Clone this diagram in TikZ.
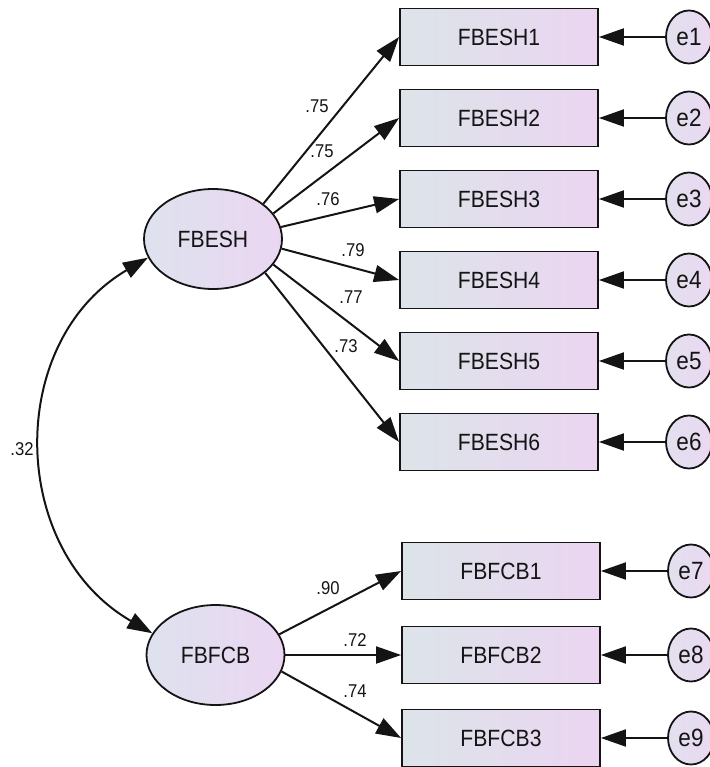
\documentclass[tikz,border=0pt]{standalone}
\usepackage{fontspec}
\setmainfont[FakeStretch=0.9]{Liberation Sans}
\usetikzlibrary{arrows.meta,shapes.geometric}
\definecolor{boxL}{HTML}{DCE4E9}
\definecolor{boxR}{HTML}{EBD5F1}
\definecolor{latL}{HTML}{DEE2EE}
\definecolor{latR}{HTML}{EBD6F2}
\definecolor{errL}{HTML}{E2E0EE}
\definecolor{errR}{HTML}{EAD8F2}
\definecolor{ink}{HTML}{141414}
\begin{document}
\begin{tikzpicture}[x=1pt,y=-1pt,
  indicator/.style={rectangle, draw=ink, line width=1.8pt, left color=boxL, right color=boxR,
    minimum width=198pt, minimum height=57pt, inner sep=0pt, text=ink,
    font=\fontsize{23.5}{27}\selectfont},
  factor/.style={ellipse, draw=ink, line width=1.8pt, left color=latL, right color=latR,
    minimum width=138pt, minimum height=100pt, inner sep=0pt, text=ink,
    font=\fontsize{23.5}{27}\selectfont},
  errterm/.style={ellipse, draw=ink, line width=1.8pt, left color=errL, right color=errR,
    minimum width=46pt, minimum height=53pt, inner sep=0pt, text=ink,
    font=\fontsize{25}{29}\selectfont},
  loading/.style={draw=ink, line width=2pt, -{Triangle[length=25pt,width=17pt]}},
  covpath/.style={draw=ink, line width=2pt,
    {Triangle[length=25pt,width=17pt]}-{Triangle[length=25pt,width=17pt]}},
  coef/.style={text=ink, inner sep=0pt, font=\fontsize{18.5}{21}\selectfont}
]
\useasboundingbox (0,0) rectangle (709,767);

% latent factors
\node[factor] (FBESH) at (213,239) {FBESH};
\node[factor] (FBFCB) at (215.5,655) {FBFCB};

% observed indicators and their error terms
\foreach \i/\y in {1/37,2/118,3/199,4/280,5/361,6/442}{
  \node[indicator] (FBESH\i) at (499,\y) {FBESH\i};
  \node[errterm] (e\i) at (689,\y) {e\i};
  \draw[loading] (e\i) -- (FBESH\i.east);
}
\foreach \i/\y/\k in {1/571/7,2/655/8,3/738/9}{
  \node[indicator] (FBFCB\i) at (501,\y) {FBFCB\i};
  \node[errterm] (e\k) at (691,\y) {e\k};
  \draw[loading] (e\k) -- (FBFCB\i.east);
}

% factor loadings
\draw[loading] (FBESH.35)  -- (FBESH1.west);
\draw[loading] (FBESH.23)  -- (FBESH2.west);
\draw[loading] (FBESH.10)  -- (FBESH3.west);
\draw[loading] (FBESH.-8)  -- (FBESH4.west);
\draw[loading] (FBESH.-23) -- (FBESH5.west);
\draw[loading] (FBESH.-33) -- (FBESH6.west);
\draw[loading] (FBFCB.18)  -- (FBFCB1.west);
\draw[loading] (FBFCB.0)   -- (FBFCB2.west);
\draw[loading] (FBFCB.-14) -- (FBFCB3.west);

% covariance between the factors
\draw[covpath] (FBESH.196) .. controls +(-143,84) and +(-144,-83) .. (FBFCB.161);

% estimates
\node[coef] (c1) at (317,106) {.75};
\node[coef] (c2) at (322,151) {.75};
\node[coef] (c3) at (328,199) {.76};
\node[coef] (c4) at (353,250) {.79};
\node[coef] (c5) at (351,297) {.77};
\node[coef] (c6) at (346,346) {.73};
\node[coef] (c7) at (328,588) {.90};
\node[coef] (c8) at (355,640) {.72};
\node[coef] (c9) at (355,691) {.74};
\node[coef] (c10) at (22,449) {.32};
\end{tikzpicture}
\end{document}
